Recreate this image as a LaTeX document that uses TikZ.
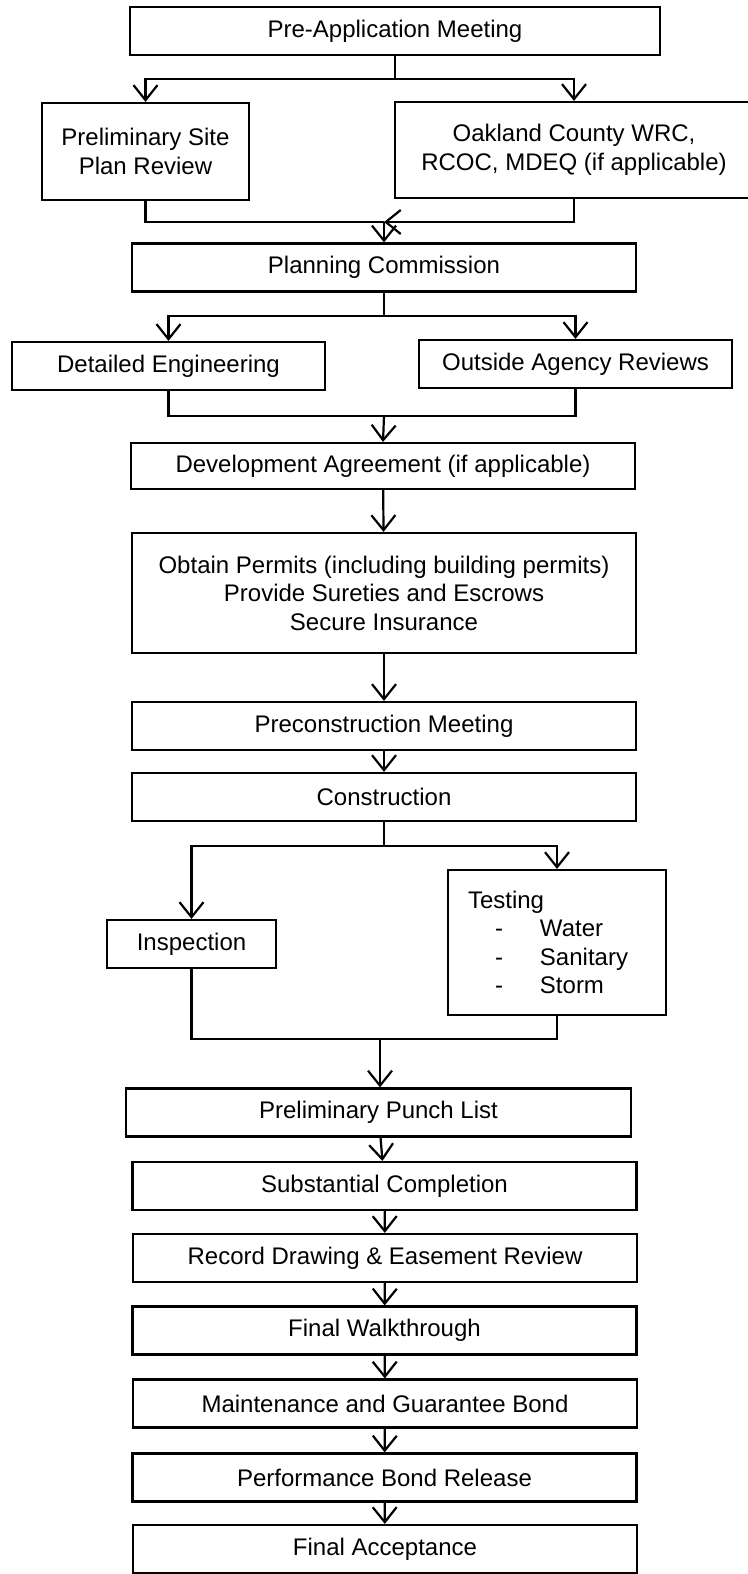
\documentclass[tikz,border=0pt]{standalone}
\usepackage{fontspec}
\setmainfont{Liberation Sans}
\usetikzlibrary{arrows.meta}

\begin{document}
\begin{tikzpicture}[x=1pt,y=-1pt,line width=2.2pt,>={Straight Barb[length=15pt,width=24pt]}]
        \tikzstyle{stage}=[draw,rectangle,inner sep=0pt,minimum height=48pt,align=center,font=\fontsize{24}{28.5}\selectfont]
        \tikzstyle{wide}=[stage,minimum width=504pt]
        \tikzstyle{edge}=[draw,->]
        \useasboundingbox (0,0) rectangle (747,1574);
       \begin{scope}
         \node [stage,minimum width=530pt] (pre) at (395,31) {Pre-Application Meeting};
         \node [stage,minimum width=207pt,minimum height=97pt] (site) at (145.5,151.5) {Preliminary Site\\Plan Review};
         \node [stage,minimum width=358pt,minimum height=96pt] (wrc) at (574,150) {Oakland County WRC,\\RCOC, MDEQ (if applicable)};
         \node [wide] (plan) at (384,267.5) {Planning Commission};
         \node [stage,minimum width=313pt] (eng) at (168.5,366) {Detailed Engineering};
         \node [stage,minimum width=313pt] (agency) at (575.5,364) {Outside Agency Reviews};
         \node [wide,minimum height=46pt] (devagr) at (383,466) {Development Agreement (if applicable)};
         \node [wide,minimum height=120pt] (permits) at (384,593) {Obtain Permits (including building permits)\\Provide Sureties and Escrows\\Secure Insurance};
         \node [wide] (precon) at (384,726) {Preconstruction Meeting};
         \node [wide] (constr) at (384,797) {Construction};
         \node [stage,minimum width=169pt] (insp) at (191.5,944) {Inspection};
         \node [stage,minimum height=145pt,text width=178pt,inner xsep=20pt,align=left] (testing) at (557,942.5)
           {Testing\\\makebox[72pt][l]{\hspace*{27pt}-}Water\\\makebox[72pt][l]{\hspace*{27pt}-}Sanitary\\\makebox[72pt][l]{\hspace*{27pt}-}Storm};
         \node [wide,minimum width=505pt] (punch) at (378.5,1112.5) {Preliminary Punch List};
         \node [wide] (subst) at (384.5,1186) {Substantial Completion};
         \node [wide] (record) at (385,1258) {Record Drawing \& Easement Review};
         \node [wide] (walk) at (384.5,1330.5) {Final Walkthrough};
         \node [wide] (maint) at (385,1403.5) {Maintenance and Guarantee Bond};
         \node [wide] (perf) at (384.5,1477.5) {Performance Bond Release};
         \node [wide] (accept) at (385,1549) {Final Acceptance};

         % joints
         \coordinate (j1) at (395,79);
         \coordinate (m1) at (384,222);
         \coordinate (j2) at (384,316);
         \coordinate (m2) at (384,416);
         \coordinate (j3) at (384,846);
         \coordinate (m3) at (380,1039);

         \draw (pre.south) -- (j1);
         \path[edge] (j1) -| (site.north);
         \path[edge] (j1) -| (wrc.north);
         \draw (site.south) |- (m1);
         \path[edge] (wrc.south) |- (m1);
         \path[edge] (m1) -- (plan.north);
         \draw (plan.south) -- (j2);
         \path[edge] (j2) -| (eng.north);
         \path[edge] (j2) -| (agency.north);
         \draw (eng.south) |- (m2) -| (agency.south);
         \path[edge] (m2) -- (devagr.north);
         \path[edge] (devagr) -- (permits);
         \path[edge] (permits) -- (precon);
         \path[edge] (precon) -- (constr);
         \draw (constr.south) -- (j3);
         \path[edge] (j3) -| (insp.north);
         \path[edge] (j3) -| (testing.north);
         \draw (insp.south) |- (m3) -| (testing.south);
         \path[edge] (m3) -- (m3 |- punch.north);
         \path[edge] (punch) -- (subst);
         \path[edge] (subst) -- (record);
         \path[edge] (record) -- (walk);
         \path[edge] (walk) -- (maint);
         \path[edge] (maint) -- (perf);
         \path[edge] (perf) -- (accept);
        \end{scope}
      \end{tikzpicture}
\end{document}
